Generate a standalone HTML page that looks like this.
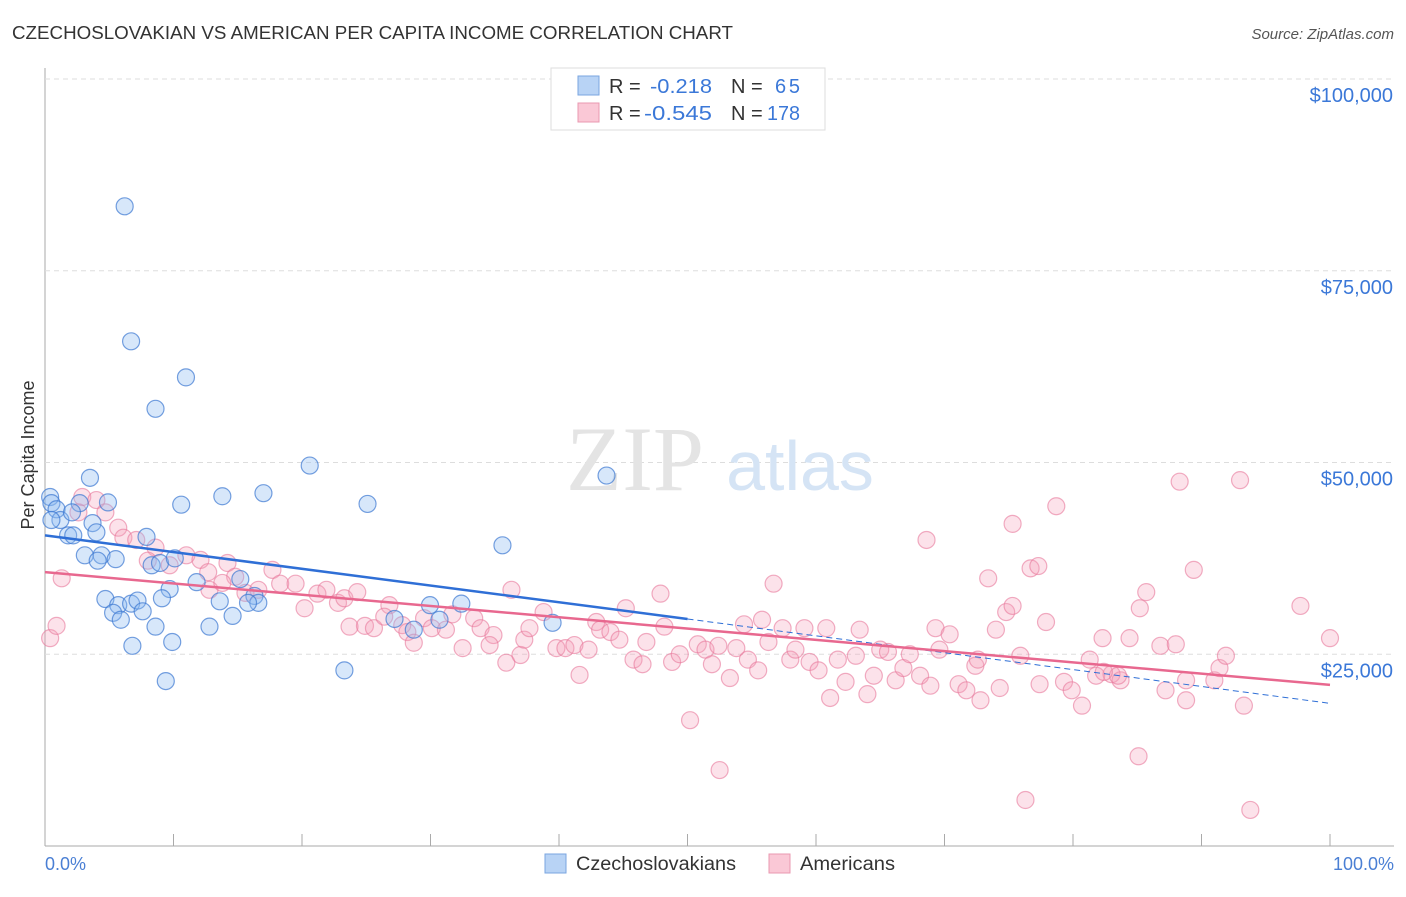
<!DOCTYPE html>
<html><head><meta charset="utf-8"><style>
body{margin:0;background:#fff;font-family:"Liberation Sans",sans-serif}
svg text{font-family:"Liberation Sans",sans-serif}
</style></head><body>
<svg width="1406" height="892">
<text x="12" y="39" font-size="18" fill="#333" textLength="721" lengthAdjust="spacingAndGlyphs">CZECHOSLOVAKIAN VS AMERICAN PER CAPITA INCOME CORRELATION CHART</text>
<text x="1394" y="39" font-size="15" fill="#555" font-style="italic" text-anchor="end">Source: ZipAtlas.com</text>
<g id="grid"></g>
<text x="635" y="490" font-size="92" fill="#e4e4e4" text-anchor="middle" style="font-family:'Liberation Serif',serif">ZIP</text>
<text x="800" y="490" font-size="70" fill="#d5e4f5" text-anchor="middle">atlas</text>
<g id="pts"></g>
<g id="lines"></g>
<text transform="translate(34,455) rotate(-90)" font-size="18" fill="#333" text-anchor="middle">Per Capita Income</text>
<text x="45" y="870" font-size="18" fill="#4a7fd4">0.0%</text>
<text x="1394" y="870" font-size="18" fill="#4a7fd4" text-anchor="end">100.0%</text>
<g>
<rect x="551" y="68" width="274" height="62" fill="#fff" stroke="#ddd"/>
<rect x="578" y="76" width="21" height="19" fill="#b8d3f5" stroke="#7aa6e0"/>
<rect x="578" y="103" width="21" height="19" fill="#fac8d6" stroke="#ea98b0"/>
<text x="609" y="93" font-size="20" fill="#333">R = <tspan fill="#3b78d8" x="650" textLength="62" lengthAdjust="spacingAndGlyphs">-0.218</tspan><tspan x="731">N = </tspan><tspan fill="#3b78d8" x="775" textLength="25">65</tspan></text>
<text x="609" y="120" font-size="20" fill="#333">R = <tspan fill="#3b78d8" x="644" textLength="68" lengthAdjust="spacingAndGlyphs">-0.545</tspan><tspan x="731">N = </tspan><tspan fill="#3b78d8" x="767" textLength="33" lengthAdjust="spacingAndGlyphs">178</tspan></text>
</g>
<g>
<rect x="545" y="854" width="21" height="19" fill="#b8d3f5" stroke="#7aa6e0"/>
<text x="576" y="870" font-size="19" fill="#333" textLength="160" lengthAdjust="spacingAndGlyphs">Czechoslovakians</text>
<rect x="769" y="854" width="21" height="19" fill="#fac8d6" stroke="#ea98b0"/>
<text x="800" y="870" font-size="19" fill="#333" textLength="95" lengthAdjust="spacingAndGlyphs">Americans</text>
</g>
</svg>
<script>
const yTicks=[25000,50000,75000,100000];
const yTickLabels=["$25,000","$50,000","$75,000","$100,000"];
const blueX=[6.2,6.7,10.97,8.6,20.6,43.7,3.5,17.0,13.8,25.1,10.6,4.9,0.4,0.5,2.7,0.9,1.2,2.1,3.7,1.8,4.0,2.2,7.9,3.1,4.4,4.1,5.5,35.6,8.3,8.95,10.1,15.2,11.8,9.7,13.6,16.3,4.7,9.1,5.7,6.7,7.2,7.6,5.3,16.6,15.8,14.6,29.96,32.4,12.8,8.6,5.9,27.2,28.7,30.7,39.5,6.8,9.9,9.4,23.3,0.5];
const blueY=[83.4,65.8,61.1,57.0,49.6,48.3,48.0,46.0,45.6,44.6,44.5,44.8,45.5,44.7,44.7,43.9,42.5,43.5,42.1,40.5,40.9,40.5,40.3,37.9,37.9,37.2,37.4,39.2,36.6,36.9,37.5,34.8,34.4,33.5,31.9,32.6,32.2,32.3,31.4,31.6,32.0,30.6,30.4,31.7,31.7,30.0,31.4,31.6,28.6,28.6,29.5,29.6,28.2,29.5,29.1,26.1,26.6,21.5,22.9,42.5];
const pinkX=[0.4,0.9,1.3,2.9,4.0,2.6,4.7,5.7,6.1,7.1,8.6,8.0,9.7,11.0,12.1,12.7,14.2,14.8,12.8,13.8,15.6,16.6,17.7,18.3,19.5,20.2,21.2,21.9,22.8,23.3,24.3,23.7,24.9,25.6,26.8,26.4,27.8,28.2,28.7,29.5,30.1,31.2,31.7,32.5,33.4,33.9,34.9,34.6,35.9,36.3,37.0,37.3,37.7,38.8,39.8,40.5,41.6,41.2,42.3,42.9,43.2,44.0,44.7,45.2,45.8,46.5,46.8,47.9,48.2,48.8,49.4,50.2,50.8,51.4,51.9,52.4,53.3,53.8,54.4,54.7,55.5,55.8,56.3,56.7,57.4,58.0,58.4,59.1,59.5,60.2,60.8,61.1,61.7,62.3,63.1,63.4,64.0,64.5,65.0,65.6,66.2,66.8,67.3,68.1,68.6,68.9,69.3,69.6,70.4,71.1,71.7,72.4,72.6,73.4,74.0,74.3,74.8,75.3,75.9,76.7,77.4,77.9,78.7,79.3,79.9,80.7,81.3,81.8,82.3,83.0,83.7,84.4,85.1,85.2,85.7,86.8,87.2,88.0,88.3,88.8,89.4,91.0,91.4,91.9,93.0,93.3,93.8,97.7,100,52.5,76.3,77.3,75.3,88.8,83.5,82.4,72.8];
const pinkY=[27.1,28.7,34.9,45.5,45.1,43.5,43.5,41.5,40.2,39.9,38.9,37.2,36.6,37.9,37.3,35.7,36.9,35.1,33.4,34.3,33.0,33.4,36.0,34.2,34.2,31.0,32.9,33.4,31.7,32.3,33.1,28.6,28.7,28.4,31.4,29.9,28.8,27.9,26.5,29.7,28.4,28.2,30.2,25.8,29.7,28.4,27.5,26.2,23.9,33.4,24.9,26.9,28.4,30.5,25.8,25.8,22.3,26.2,25.6,29.2,28.2,27.9,26.9,31.0,24.3,23.7,26.6,32.9,28.6,24.0,25.0,16.4,26.3,25.6,23.7,26.1,21.9,25.8,28.9,24.3,22.9,29.5,26.6,34.2,28.4,24.3,25.6,28.4,24.0,22.9,28.4,19.3,24.3,21.4,24.8,28.2,19.8,22.2,25.6,25.3,21.6,23.2,25.0,22.2,39.9,20.9,28.4,25.6,27.6,21.1,20.3,23.5,24.3,34.9,28.2,20.6,30.5,42.0,24.8,36.2,21.1,29.2,44.3,21.4,20.3,18.3,24.3,22.2,27.1,22.4,21.6,27.1,11.7,31.0,33.1,26.1,20.3,26.3,47.5,21.6,36.0,21.6,23.2,24.8,47.7,18.3,4.7,31.3,27.1,9.9,6.0,36.5,31.3,19.0,22.2,22.7,19.0];
const blueLine=[[0,40.5],[50,29.6],[100,18.6]];
const pinkLine=[[0,35.7],[100,21.0]];
const xs=v=>45+v*12.85, ys=v=>846-v*7.67;
const NS="http://www.w3.org/2000/svg";
const grid=document.getElementById('grid');
function mk(t,a,p){const e=document.createElementNS(NS,t);for(const k in a)e.setAttribute(k,a[k]);p.appendChild(e);return e;}
let ax=mk('line',{x1:45,y1:68,x2:45,y2:846,stroke:'#aaa'},grid);


let bx=mk('line',{x1:45,y1:846,x2:1394,y2:846,stroke:'#aaa'},grid);


for(let i=0;i<=10;i++){let t=mk('line',{x1:45+i*128.5,y1:834,x2:45+i*128.5,y2:846,stroke:'#aaa'},grid);

}
yTicks.forEach((v,i)=>{let g=mk('line',{x1:45,x2:1394,y1:ys(v/1000),y2:ys(v/1000),stroke:'#ddd','stroke-dasharray':'5,4'},grid);


let t=mk('text',{x:1393,y:ys(v/1000)+23,'font-size':20,fill:'#3b78d8','text-anchor':'end'},grid);t.textContent=yTickLabels[i];

});
const pts=document.getElementById('pts');
const nP=Math.min(pinkX.length,pinkY.length);
for(let i=0;i<nP;i++){let c=mk('circle',{cx:xs(pinkX[i]),cy:ys(pinkY[i]),r:8.5,fill:'rgba(245,160,185,0.3)',stroke:'rgba(232,120,155,0.6)','stroke-width':1.2},pts);

}
blueX.forEach((x,i)=>{let c=mk('circle',{cx:xs(x),cy:ys(blueY[i]),r:8.5,fill:'rgba(140,185,240,0.35)',stroke:'rgba(60,120,210,0.7)','stroke-width':1.2},pts);

});
const L=document.getElementById('lines');
let b1=mk('line',{x1:xs(blueLine[0][0]),y1:ys(blueLine[0][1]),x2:xs(blueLine[1][0]),y2:ys(blueLine[1][1]),stroke:'#2f6fd6','stroke-width':2.5},L);


let b2=mk('line',{x1:xs(blueLine[1][0]),y1:ys(blueLine[1][1]),x2:xs(blueLine[2][0]),y2:ys(blueLine[2][1]),stroke:'#2f6fd6','stroke-width':1,'stroke-dasharray':'6,4'},L);


let p1=mk('line',{x1:xs(pinkLine[0][0]),y1:ys(pinkLine[0][1]),x2:xs(pinkLine[1][0]),y2:ys(pinkLine[1][1]),stroke:'#e8688f','stroke-width':2.5},L);


</script>
</body></html>
